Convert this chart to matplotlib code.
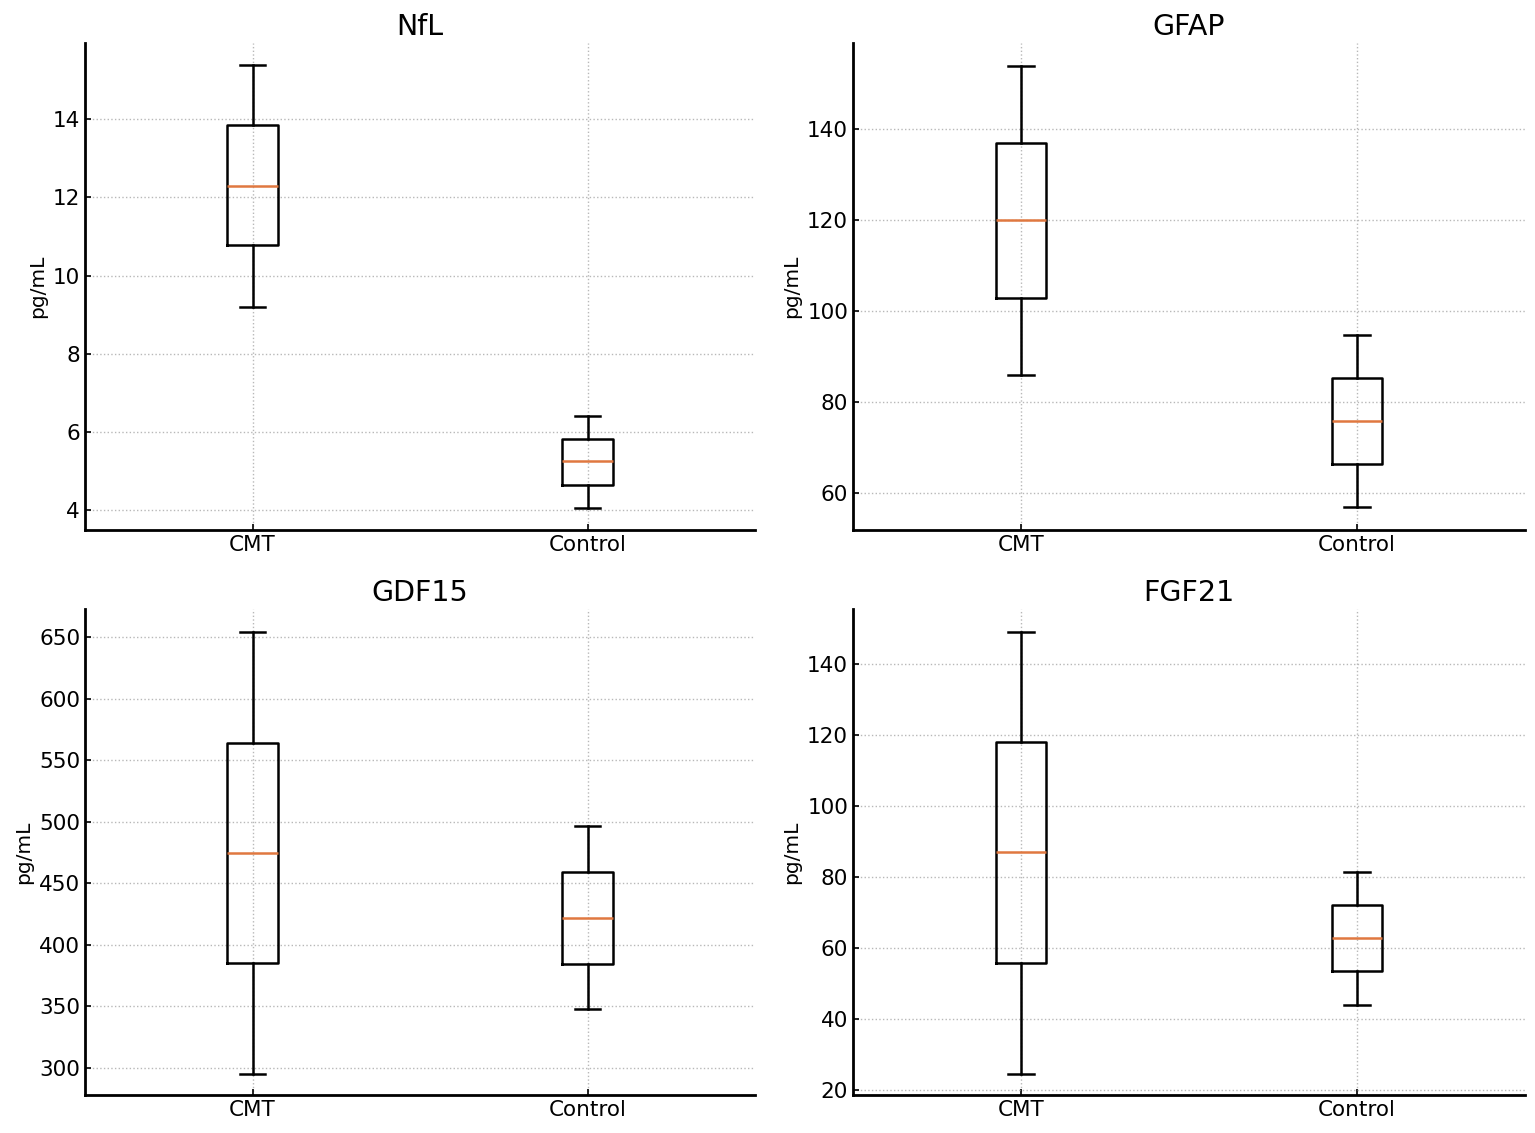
import matplotlib.pyplot as plt

# group labels and box statistics
groups = ['CMT', 'Control']
panels = ['NfL', 'GFAP', 'GDF15', 'FGF21']

# whislo, q1, med, q3, whishi per group
nfl_cmt = [9.2, 10.77, 12.3, 13.85, 15.38]
nfl_ctrl = [4.05, 4.64, 5.26, 5.82, 6.41]
gfap_cmt = [85.9, 102.9, 120.0, 136.9, 153.8]
gfap_ctrl = [56.9, 66.4, 75.8, 85.3, 94.7]
gdf15_cmt = [295.1, 385.3, 474.6, 563.9, 654.0]
gdf15_ctrl = [347.9, 384.5, 421.8, 459.2, 496.5]
fgf21_cmt = [24.5, 55.8, 87.0, 118.0, 149.0]
fgf21_ctrl = [44.0, 53.5, 62.8, 72.1, 81.4]

ylims = {'NfL': (3.49, 15.95), 'GFAP': (51.9, 158.9),
         'GDF15': (278, 672.7), 'FGF21': (18.6, 155.5)}
yticks = {'NfL': [4, 6, 8, 10, 12, 14], 'GFAP': [60, 80, 100, 120, 140],
          'GDF15': [300, 350, 400, 450, 500, 550, 600, 650],
          'FGF21': [20, 40, 60, 80, 100, 120, 140]}
data = {'NfL': (nfl_cmt, nfl_ctrl), 'GFAP': (gfap_cmt, gfap_ctrl),
        'GDF15': (gdf15_cmt, gdf15_ctrl), 'FGF21': (fgf21_cmt, fgf21_ctrl)}


def to_stats(vals, label):
    lo, q1, med, q3, hi = vals
    return {'whislo': lo, 'q1': q1, 'med': med, 'q3': q3, 'whishi': hi,
            'fliers': [], 'label': label}


fig = plt.figure(figsize=(15.35, 11.33), dpi=100)
rects = [[0.0554, 0.5322, 0.4365, 0.4298], [0.5557, 0.5322, 0.4378, 0.4298],
         [0.0554, 0.0335, 0.4365, 0.4290], [0.5557, 0.0335, 0.4378, 0.4290]]

for name, r in zip(panels, rects):
    ax = fig.add_axes(r)
    stats = [to_stats(v, g) for v, g in zip(data[name], groups)]
    ax.bxp(stats, positions=[1, 2], widths=0.15, showfliers=False,
           boxprops=dict(color='black', linewidth=1.8),
           whiskerprops=dict(color='black', linewidth=1.8),
           capprops=dict(color='black', linewidth=1.8),
           medianprops=dict(color='#e07840', linewidth=1.8))
    ax.set_xlim(0.5, 2.5)
    ax.set_ylim(*ylims[name])
    ax.set_yticks(yticks[name])
    ax.set_title(name, fontsize=20.5, pad=6)
    ax.set_ylabel('pg/mL', fontsize=14.5, labelpad=4)
    ax.tick_params(labelsize=15.5, direction='in', length=4, width=1.2)
    ax.grid(True, linestyle=':', color='#b8b8b8', linewidth=1)
    ax.set_axisbelow(True)
    for s in ['top', 'right']:
        ax.spines[s].set_visible(False)
    for s in ['left', 'bottom']:
        ax.spines[s].set_linewidth(2)

fig.savefig('out.png', dpi=100)
